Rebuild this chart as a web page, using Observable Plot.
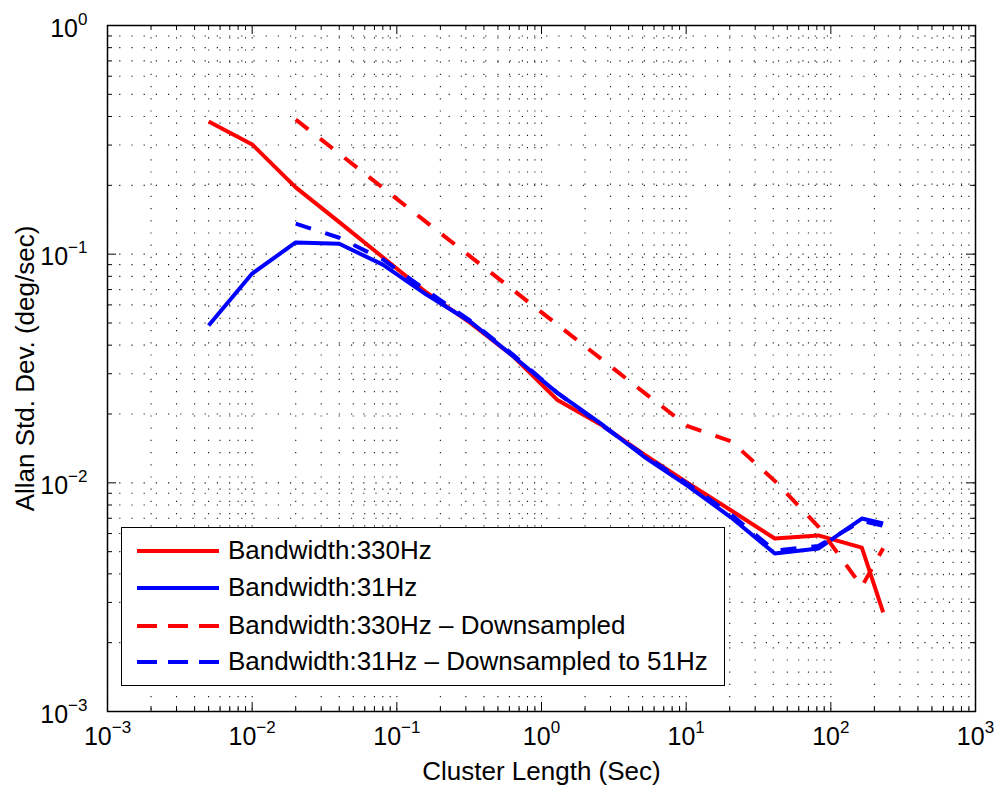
<!DOCTYPE html>
<html><head><meta charset="utf-8">
<script src="https://cdn.jsdelivr.net/npm/d3@7"></script>
<script src="https://cdn.jsdelivr.net/npm/@observablehq/plot@0.6"></script>
<style>
body{margin:0;background:#fff;}
#wrap{position:relative;width:997px;height:792px;font-family:"Liberation Sans",Arial,Helvetica,sans-serif;}
#legend{position:absolute;left:121px;top:527px;width:604px;height:159px;box-sizing:border-box;border:1.5px solid #000;background:#fff;}
.row{position:absolute;left:0;height:36px;display:flex;align-items:center;font-size:26px;color:#000;white-space:nowrap;}
.row svg{margin-left:15px;margin-right:9px;}
</style></head><body><div id="wrap"></div>
<script>
// ---- data ----
const clusterLength = [0.005, 0.01, 0.02, 0.04, 0.08, 0.16, 0.32, 0.64, 1.28, 2.56, 5.12, 10.24, 20.48, 40.96, 81.92, 163.84, 230];
const adev330 = [0.38, 0.302, 0.196, 0.138, 0.097, 0.068, 0.0502, 0.0357, 0.0231, 0.018, 0.0133, 0.0100, 0.00757, 0.00571, 0.00589, 0.00521, 0.00271];
const adev31 = [0.0488, 0.0823, 0.1125, 0.111, 0.090, 0.0666, 0.0508, 0.0357, 0.0248, 0.0182, 0.0130, 0.0097, 0.00705, 0.00491, 0.00516, 0.00698, 0.00664];
const clusterLengthDown = [0.02, 0.04, 0.08, 0.16, 0.32, 0.64, 1.28, 2.56, 5.12, 10.24, 20.48, 40.96, 81.92, 163.84, 230];
const adev330Down = [0.388, 0.275, 0.195, 0.138, 0.098, 0.0695, 0.0493, 0.035, 0.0248, 0.0177, 0.0152, 0.0102, 0.00644, 0.00352, 0.00517];
const adev31Down = [0.136, 0.118, 0.0948, 0.0694, 0.0513, 0.0362, 0.0248, 0.0180, 0.0132, 0.0099, 0.00726, 0.00505, 0.0053, 0.0068, 0.0065];

const seriesNames = ["Bandwidth:330Hz", "Bandwidth:31Hz", "Bandwidth:330Hz – Downsampled", "Bandwidth:31Hz – Downsampled to 51Hz"];
const xTicks = [1e-3, 1e-2, 1e-1, 1e0, 1e1, 1e2, 1e3];
const xTickLabels = ["10^−3", "10^−2", "10^−1", "10^0", "10^1", "10^2", "10^3"];
const yTicks = [1e-3, 1e-2, 1e-1, 1e0];
const yTickLabels = ["10^−3", "10^−2", "10^−1", "10^0"];
const xLabel = "Cluster Length (Sec)";
const yLabel = "Allan Std. Dev. (deg/sec)";

// ---- styles ----
const seriesColors = ["#ff0000", "#0000ff", "#ff0000", "#0000ff"];
const seriesDash = [null, null, "16,15", "16,15"];

const seriesX = [clusterLength, clusterLength, clusterLengthDown, clusterLengthDown];
const seriesY = [adev330, adev31, adev330Down, adev31Down];
const series = seriesNames.map((name, i) => seriesX[i].map((x, j) => ({name, x, y: seriesY[i][j]})));

function minorTicks(ticks) {
  const out = [];
  for (let i = 0; i < ticks.length - 1; i++) for (let m = 2; m <= 9; m++) out.push(ticks[i] * m);
  return out;
}
const xMinor = minorTicks(xTicks), yMinor = minorTicks(yTicks);
const xAll = xTicks.concat(xMinor), yAll = yTicks.concat(yMinor);

const W = 997, H = 792, mL = 107, mR = 22, mT = 25, mB = 81;
const pw = W - mL - mR, ph = H - mT - mB;
const major = 9, minor = 5;
const dot = {stroke: "#000", strokeWidth: 1.1, strokeDasharray: "1.2,11", strokeOpacity: 0.9};

const tickMarks = (vals, len) => [
  Plot.ruleX(vals, {x: d => d, insetTop: ph - len, stroke: "#000", strokeWidth: 1}),
  Plot.ruleX(vals, {x: d => d, insetBottom: ph - len, stroke: "#000", strokeWidth: 1}),
];
const tickMarksY = (vals, len) => [
  Plot.ruleY(vals, {y: d => d, insetRight: pw - len, stroke: "#000", strokeWidth: 1}),
  Plot.ruleY(vals, {y: d => d, insetLeft: pw - len, stroke: "#000", strokeWidth: 1}),
];

const svg = Plot.plot({
  width: W, height: H,
  marginLeft: mL, marginRight: mR, marginTop: mT, marginBottom: mB,
  style: {fontFamily: '"Liberation Sans", Arial, Helvetica, sans-serif', fontSize: "25px", color: "#000", background: "#fff"},
  x: {type: "log", domain: [1e-3, 1e3]},
  y: {type: "log", domain: [1e-3, 1]},
  marks: [
    Plot.gridX(xAll, {...dot}),
    Plot.gridY(yAll, {...dot}),
    ...tickMarks(xTicks, major), ...tickMarks(xMinor, minor),
    ...tickMarksY(yTicks, major), ...tickMarksY(yMinor, minor),
    ...series.map((d, i) => Plot.line(d, {x: "x", y: "y", stroke: seriesColors[i], strokeWidth: 4,
      strokeDasharray: seriesDash[i] || undefined, strokeLinecap: "butt", strokeLinejoin: "round"})),
    Plot.frame({stroke: "#000", strokeWidth: 1.5}),
    Plot.axisX(xTicks, {anchor: "bottom", tickSize: 0, tickPadding: 16, label: null,
      tickFormat: (d) => xTickLabels[xTicks.indexOf(d)], fill: "#000"}),
    Plot.axisY(yTicks, {anchor: "left", tickSize: 0, tickPadding: 20, label: null, dy: 3,
      tickFormat: (d) => yTickLabels[yTicks.indexOf(d)], fill: "#000"}),
    Plot.text([xLabel], {text: d => d, frameAnchor: "bottom", textAnchor: "middle", lineAnchor: "middle", dy: 60, fill: "#000", fontSize: 26}),
    Plot.text([yLabel], {text: d => d, frameAnchor: "left", textAnchor: "middle", lineAnchor: "middle", dx: -82, rotate: -90, fill: "#000", fontSize: 26})
  ]
});

// superscript exponents in tick labels
const ns = "http://www.w3.org/2000/svg";
svg.querySelectorAll("text").forEach(t => {
  const m = /^10\^(.+)$/.exec(t.textContent.trim());
  if (!m) return;
  while (t.firstChild) t.removeChild(t.firstChild);
  const a = document.createElementNS(ns, "tspan"); a.textContent = "10";
  const b = document.createElementNS(ns, "tspan"); b.textContent = m[1];
  b.setAttribute("dy", "-12"); b.setAttribute("font-size", "17");
  t.appendChild(a); t.appendChild(b);
});

const wrap = document.getElementById("wrap");
wrap.appendChild(svg);

// legend (inside axes box)
const legend = document.createElement("div");
legend.id = "legend";
const rowCenters = [24, 61, 99, 135];
seriesNames.forEach((name, i) => {
  const row = document.createElement("div");
  row.className = "row";
  row.style.top = (rowCenters[i] - 18 - 1.5) + "px";
  const s = document.createElementNS(ns, "svg");
  s.setAttribute("width", 82); s.setAttribute("height", 10);
  const l = document.createElementNS(ns, "line");
  l.setAttribute("x1", 0); l.setAttribute("x2", 82); l.setAttribute("y1", 5); l.setAttribute("y2", 5);
  l.setAttribute("stroke", seriesColors[i]); l.setAttribute("stroke-width", 4);
  if (seriesDash[i]) l.setAttribute("stroke-dasharray", "20,11");
  s.appendChild(l);
  const span = document.createElement("span");
  span.textContent = name;
  row.appendChild(s); row.appendChild(span);
  legend.appendChild(row);
});
wrap.appendChild(legend);
</script></body></html>
